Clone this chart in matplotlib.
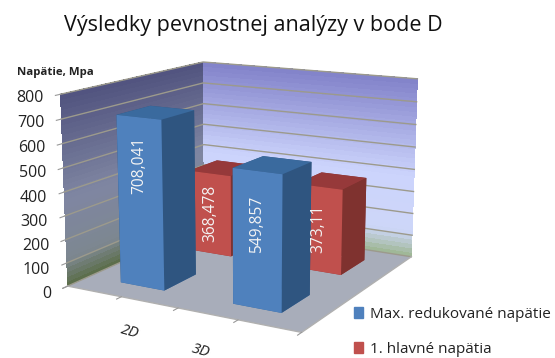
import numpy as np
import matplotlib
matplotlib.use('Agg')
import matplotlib.pyplot as plt
from matplotlib.colors import LinearSegmentedColormap
from matplotlib.patches import Patch
from mpl_toolkits.mplot3d import proj3d

plt.rcParams['font.family'] = ['Open Sans', 'DejaVu Sans']

categories = ['2D', '3D']
series_names = ['Max. redukované napätie', '1. hlavné napätia']
max_reduced = [708.041, 549.857]
first_principal = [368.478, 373.11]
value_labels = [['708,041', '549,857'], ['368,478', '373,11']]
z_ticks = [0, 100, 200, 300, 400, 500, 600, 700, 800]

BLUE = ['#3a6a9e', '#3a6a9e', '#4f81bd', '#2f5580', '#2f5580', '#2f5580']
RED = ['#96393a', '#96393a', '#c0504d', '#7f322f', '#7f322f', '#7f322f']
Z_MAX = z_ticks[-1]
N = len(categories)

left_cmap = LinearSegmentedColormap.from_list('left', [(0, '#5c6e4c'), (0.13, '#7d8790'), (0.45, '#7f86a2'), (1, '#50527e')])
back_cmap = LinearSegmentedColormap.from_list('back', [(0, '#a0b898'), (0.13, '#cdd6f8'), (0.45, '#ccd4fc'), (1, '#8080c8')])

fig = plt.figure(figsize=(5.55, 3.58), dpi=100)
ax = fig.add_axes([0.003, -0.13, 0.86, 1.22], projection='3d', proj_type='persp', focal_length=0.5, computed_zorder=False)
ax.view_init(elev=13.5, azim=-60.5)
ax.set_box_aspect((1.5, 1.5, 1.11), zoom=0.91)
ax.set_axis_off()
ax.patch.set_alpha(0)
ax.set_xlim(0, N)
ax.set_ylim(0, N)
ax.set_zlim(0, Z_MAX)


def wall_colors(cmap):
    t = np.linspace(0, 1, 40)
    return cmap(np.column_stack([t[:-1], t[:-1]]))


def flat_text(x, y, z, s, **kwargs):
    # 2d text at a projected 3d point, keeps its own rotation
    px, py, _ = proj3d.proj_transform(x, y, z, ax.get_proj())
    ax.text2D(px, py, s, transform=ax.transData, **kwargs)


zz = np.linspace(0, Z_MAX, 40)
# left wall
yy = np.array([0, N])
Y, Z = np.meshgrid(yy, zz)
ax.plot_surface(np.zeros_like(Y), Y, Z, facecolors=wall_colors(left_cmap)[:, :1], shade=False, linewidth=0, antialiased=False, zorder=1)
# back wall
xx = np.array([0, N])
X, Z = np.meshgrid(xx, zz)
ax.plot_surface(X, np.full_like(X, N, dtype=float), Z, facecolors=wall_colors(back_cmap)[:, :1], shade=False, linewidth=0, antialiased=False, zorder=1)
# floor
X, Y = np.meshgrid([0, N], [0, N])
ax.plot_surface(X, Y, np.zeros_like(X), color='#a8adba', shade=False, linewidth=0, zorder=2)

for t in z_ticks:
    ax.plot([0, 0, N], [0, N, N], [t, t, t], color='#9c9a8c', lw=1.0, zorder=3)
    ax.plot([0, 0], [0, -0.06], [t, t], color='#999999', lw=0.8, zorder=3)
    flat_text(0, -0.2, t, str(t), ha='right', va='center', fontsize=11.5, color='#222222', zorder=20)

# front and right floor edges with ticks
ax.plot([0, N, N], [0, 0, N], [0, 0, 0], color='#b0b0b0', lw=1.0, zorder=3)
for x in np.arange(0, N + 0.5, 0.5):
    ax.plot([x, x], [0, -0.06], [0, 0], color='#999999', lw=0.8, zorder=3)

# bars, back row first, each category left to right
width = 0.4
depth = 0.45
for row, (vals, cols) in reversed(list(enumerate([(max_reduced, BLUE), (first_principal, RED)]))):
    for i, v in enumerate(vals):
        x0 = i + 0.5 - width / 2
        y0 = row + 0.5 - depth / 2
        ax.bar3d(x0, y0, 0, width, depth, v, color=cols, shade=False, linewidth=0, zorder=5 + 2 * (1 - row) + i)
        # taller bars carry their label higher up
        label_z = v * (0.5 + (v - 368) * 0.00065)
        flat_text(i + 0.5, y0, label_z, value_labels[row][i], rotation=90, ha='center', va='center',
                  color='#f4f4f4', fontsize=11.2, zorder=15)

fig.text(253 / 555, 1 - 25 / 358, 'Výsledky pevnostnej analýzy v bode D', ha='center', va='center', fontsize=15.5, color='#111111')
fig.text(17 / 555, 1 - 73 / 358, 'Napätie, Mpa', ha='left', va='center', fontsize=8.2, fontweight='bold', color='#222222')
fig.text(130 / 555, 1 - 332 / 358, categories[0], ha='center', va='center', rotation=-15, fontsize=11, style='italic', color='#222222')
fig.text(201 / 555, 1 - 351 / 358, categories[1], ha='center', va='center', rotation=-15, fontsize=11, style='italic', color='#222222')

handles = [Patch(color='#4f81bd'), Patch(color='#c0504d')]
fig.legend(handles, series_names, loc='lower left', bbox_to_anchor=(354 / 555, 1 / 358), frameon=False, fontsize=11,
           handlelength=0.62, handleheight=0.7, handletextpad=0.45, labelspacing=1.3, borderpad=0, borderaxespad=0, labelcolor='#222222')

fig.savefig('out.png', dpi=100)
